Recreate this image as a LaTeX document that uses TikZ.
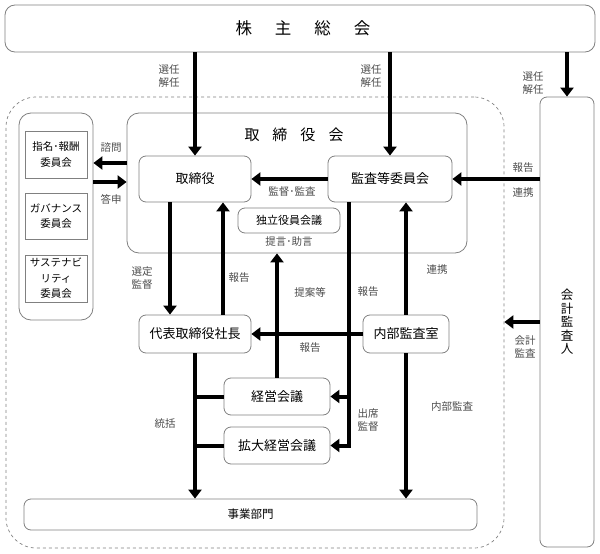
\documentclass[tikz,border=0pt]{standalone}
\usepackage{fontspec}
\setmainfont{Noto Sans CJK JP}
\usetikzlibrary{arrows.meta,positioning}
\tikzset{box/.style={draw=black!50,line width=0.8pt,rounded corners=7pt,inner sep=0pt,align=center,font=\fontsize{13}{15}\selectfont}}
\tikzset{sq/.style={draw=black!50,line width=0.8pt,inner sep=0pt,align=center,minimum width=62,font=\fontsize{10.5}{15.5}\selectfont}}
\tikzset{lbl/.style={text=black!70,inner sep=0pt,align=center,font=\fontsize{10.5}{13}\selectfont}}
\tikzset{arr/.style={line width=4pt,-{Triangle[length=9pt,width=13pt]}}}
\tikzset{bar/.style={line width=4pt}}

\begin{document}
\begin{tikzpicture}[x=1pt,y=-1pt]
\useasboundingbox (0,0) rectangle (600,554);
\node[box,rounded corners=10pt,minimum width=590,minimum height=47] (gm) at (300,28.5) {};
\node[font=\fontsize{16.5}{18}\selectfont] (gmt) at (303,28) {株\hspace{23pt}主\hspace{23pt}総\hspace{23pt}会};
\node[draw=black!50,dashed,line width=0.7pt,rounded corners=30pt,minimum width=498,minimum height=451] (grp) at (255,322.5) {};
\node[box,rounded corners=12pt,minimum width=74,minimum height=207] (cm) at (56,216.5) {};
\node[sq,minimum height=47] (nc) at (56,154.5) {指名･報酬\\委員会};
\node[sq,minimum height=46] (gc) at (56,216) {ガバナンス\\委員会};
\node[sq,minimum height=47] (sc) at (56,278.5) {サステナビ\\リティ\\委員会};
\node[box,rounded corners=12pt,minimum width=340,minimum height=140] (bod) at (297,183) {};
\node[font=\fontsize{15}{17}\selectfont] (bodt) at (294,135) {取\hspace{13pt}締\hspace{13pt}役\hspace{13pt}会};
\node[box,minimum width=112,minimum height=46] (tb) at (195,179) {取締役};
\node[box,minimum width=124,minimum height=46] (ac) at (390,179) {監査等委員会};
\node[box,minimum width=102,minimum height=25,font=\fontsize{11}{13}\selectfont] (ic) at (289,220.5) {独立役員会議};
\node[box,minimum width=112,minimum height=38] (pr) at (195,334) {代表取締役社長};
\node[box,minimum width=86,minimum height=38] (ia) at (406,334) {内部監査室};
\node[box,minimum width=106,minimum height=37] (mt) at (277,396.5) {経営会議};
\node[box,minimum width=106,minimum height=37] (emt) at (277,445.5) {拡大経営会議};
\node[box,minimum width=453,minimum height=31,font=\fontsize{11.5}{13}\selectfont] (bu) at (250.5,514.5) {事業部門};
\node[box,minimum width=54,minimum height=450,font=\fontsize{12.5}{13.5}\selectfont] (ea) at (567,322) {会\\計\\監\\査\\人};

\coordinate (r1) at (0,163);
\coordinate (r2) at (0,182);
\coordinate (xa) at (170,0);
\coordinate (xb) at (223,0);
\coordinate (xd) at (349,0);

\draw[arr] (gm.south -| tb) -- (tb.north);
\draw[arr] (gm.south -| ac) -- (ac.north);
\draw[arr] (gm.south -| ea) -- (ea.north);
\draw[arr] (bod.west |- r1) -- (cm.east |- r1);
\draw[arr] (cm.east |- r2) -- (bod.west |- r2);
\draw[arr] (ac.west) -- (tb.east);
\draw[arr] (ea.west |- ac) -- (ac.east);
\draw[arr] (ea.west) -- (ea.west -| grp.east);
\draw[arr] (tb.south -| xa) -- (pr.north -| xa);
\draw[arr] (pr.north -| xb) -- (tb.south -| xb);
\draw[arr] (mt.north) -- (bod.south -| mt);
\draw[arr] (ac.south -| xd) -- (xd |- emt.east) -- (emt.east);
\draw[arr] (xd |- mt.east) -- (mt.east);
\draw[arr] (ia.north) -- (ac.south -| ia);
\draw[arr] (ia.west) -- (pr.east);
\draw[arr] (ia.south) -- (bu.north -| ia);
\draw[arr] (pr.south) -- (bu.north -| pr);
\draw[bar] (mt.west) -- (mt.west -| pr);
\draw[bar] (emt.west) -- (emt.west -| pr);

\node[lbl] (l1) at (169,76.5) {選任\\解任};
\node[lbl] (l2) at (371,76.5) {選任\\解任};
\node[lbl] (l3) at (533,83.5) {選任\\解任};
\node[lbl] (l4) at (111,148) {諮問};
\node[lbl] (l5) at (111,199) {答申};
\node[lbl] (l6) at (292,192) {監督･監査};
\node[lbl] (l7) at (289,242) {提言･助言};
\node[lbl] (l8) at (523,168) {報告};
\node[lbl] (l9) at (523,193) {連携};
\node[lbl] (l10) at (142,278.5) {選定\\監督};
\node[lbl] (l11) at (239,278) {報告};
\node[lbl] (l12) at (310,292) {提案等};
\node[lbl] (l13) at (368,292) {報告};
\node[lbl] (l14) at (437,270) {連携};
\node[lbl] (l15) at (310,348) {報告};
\node[lbl] (l16) at (165,424) {統括};
\node[lbl] (l17) at (368,420.5) {出席\\監督};
\node[lbl] (l18) at (452,407) {内部監査};
\node[lbl] (l19) at (525,346.5) {会計\\監査};
\end{tikzpicture}
\end{document}
